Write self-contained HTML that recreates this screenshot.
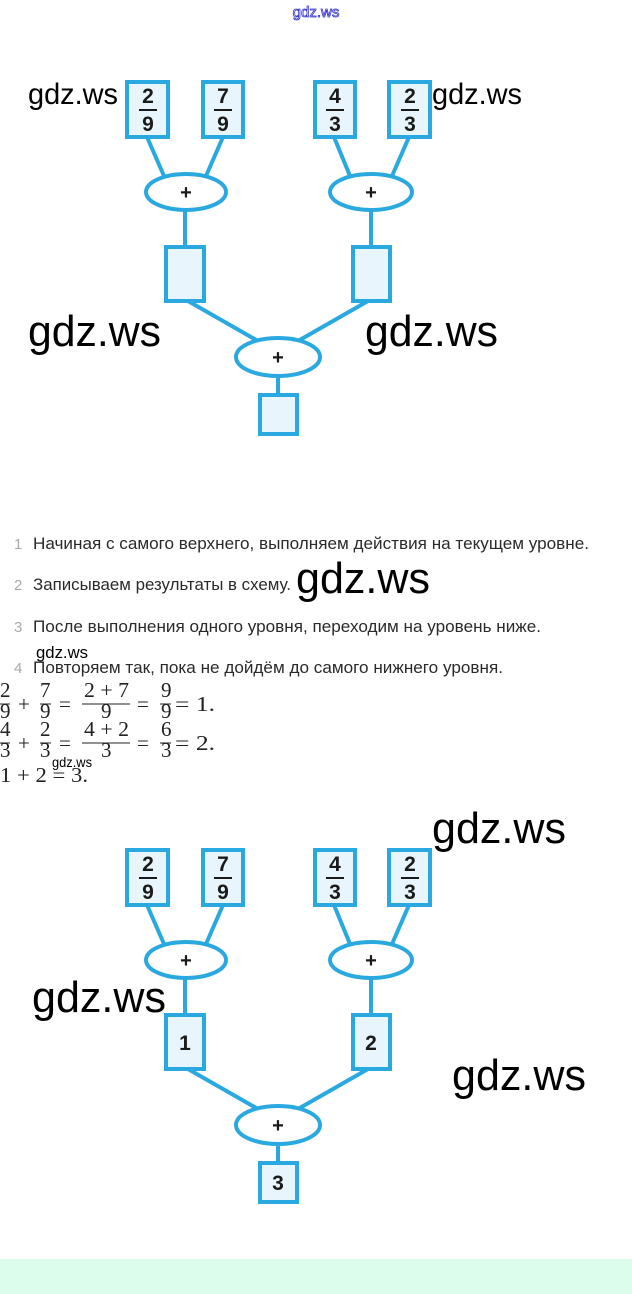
<!DOCTYPE html>
<html><head><meta charset="utf-8"><style>
html,body{margin:0;padding:0;background:#fff;}
svg{display:block;}
</style></head><body>
<svg width="632" height="1294" viewBox="0 0 632 1294" xmlns="http://www.w3.org/2000/svg">
<defs>
<g id="tree">
  <g stroke="#2aa9e0" stroke-width="4" fill="none">
    <line x1="147" y1="137" x2="164" y2="176"/>
    <line x1="223" y1="137" x2="206" y2="176"/>
    <line x1="334" y1="137" x2="350" y2="176"/>
    <line x1="409" y1="137" x2="392" y2="176"/>
    <line x1="185" y1="210" x2="185" y2="247"/>
    <line x1="371" y1="210" x2="371" y2="247"/>
    <line x1="188" y1="301" x2="258" y2="341"/>
    <line x1="368" y1="301" x2="298" y2="341"/>
    <line x1="278" y1="376" x2="278" y2="395"/>
  </g>
  <g stroke="#2aa9e0" stroke-width="4" fill="#e8f5fc">
    <rect x="127" y="82" width="41" height="55"/>
    <rect x="203" y="82" width="40" height="55"/>
    <rect x="315" y="82" width="40" height="55"/>
    <rect x="389" y="82" width="41" height="55"/>
    <rect x="166" y="247" width="38" height="54"/>
    <rect x="353" y="247" width="37" height="54"/>
    <rect x="260" y="395" width="37" height="39"/>
  </g>
  <g stroke="#2aa9e0" stroke-width="4" fill="#fff">
    <ellipse cx="186" cy="192" rx="40" ry="18"/>
    <ellipse cx="371" cy="192" rx="41" ry="18"/>
    <ellipse cx="278" cy="357" rx="42" ry="19"/>
  </g>
  <g font-family="Liberation Sans, sans-serif" font-weight="bold" font-size="21" fill="#1a1a1a" text-anchor="middle">
    <text x="148" y="103">2</text><text x="148" y="131">9</text>
    <text x="223" y="103">7</text><text x="223" y="131">9</text>
    <text x="335" y="103">4</text><text x="335" y="131">3</text>
    <text x="410" y="103">2</text><text x="410" y="131">3</text>
    <text x="186" y="199" font-size="20">+</text>
    <text x="371" y="199" font-size="20">+</text>
    <text x="278" y="364" font-size="20">+</text>
  </g>
  <g stroke="#1a1a1a" stroke-width="2">
    <line x1="139" y1="110" x2="157" y2="110"/>
    <line x1="214" y1="110" x2="232" y2="110"/>
    <line x1="326" y1="110" x2="344" y2="110"/>
    <line x1="401" y1="110" x2="419" y2="110"/>
  </g>
</g>
</defs>

<text x="316" y="17" text-anchor="middle" font-family="Liberation Sans, sans-serif" font-size="15" fill="none" stroke="#3333cc" stroke-width="0.8">gdz.ws</text>

<use href="#tree"/>
<g transform="translate(0,768)">
  <use href="#tree"/>
  <g font-family="Liberation Sans, sans-serif" font-weight="bold" font-size="21" fill="#1a1a1a" text-anchor="middle">
    <text x="185" y="282">1</text>
    <text x="371" y="282">2</text>
    <text x="278" y="422">3</text>
  </g>
</g>

<g font-family="Liberation Sans, sans-serif" fill="#000">
  <text x="28" y="104" font-size="30" textLength="90" lengthAdjust="spacingAndGlyphs">gdz.ws</text>
  <text x="432" y="104" font-size="30" textLength="90" lengthAdjust="spacingAndGlyphs">gdz.ws</text>
  <text x="28" y="346" font-size="44" textLength="133" lengthAdjust="spacingAndGlyphs">gdz.ws</text>
  <text x="365" y="346" font-size="44" textLength="133" lengthAdjust="spacingAndGlyphs">gdz.ws</text>
  <text x="296" y="593" font-size="44" textLength="134" lengthAdjust="spacingAndGlyphs">gdz.ws</text>
  <text x="36" y="658" font-size="17" textLength="52" lengthAdjust="spacingAndGlyphs">gdz.ws</text>
  <text x="52" y="767" font-size="14" textLength="40" lengthAdjust="spacingAndGlyphs">gdz.ws</text>
  <text x="432" y="843" font-size="44" textLength="134" lengthAdjust="spacingAndGlyphs">gdz.ws</text>
  <text x="32" y="1012" font-size="44" textLength="134" lengthAdjust="spacingAndGlyphs">gdz.ws</text>
  <text x="452" y="1090" font-size="44" textLength="134" lengthAdjust="spacingAndGlyphs">gdz.ws</text>
</g>

<g font-family="Liberation Sans, sans-serif" font-size="17">
  <text x="14" y="549" fill="#aaa" font-size="15">1</text>
  <text x="33" y="549" fill="#2a2a2a" textLength="556" lengthAdjust="spacingAndGlyphs">Начиная с самого верхнего, выполняем действия на текущем уровне.</text>
  <text x="14" y="590" fill="#aaa" font-size="15">2</text>
  <text x="33" y="590" fill="#2a2a2a" textLength="258" lengthAdjust="spacingAndGlyphs">Записываем результаты в схему.</text>
  <text x="14" y="632" fill="#aaa" font-size="15">3</text>
  <text x="33" y="632" fill="#2a2a2a" textLength="508" lengthAdjust="spacingAndGlyphs">После выполнения одного уровня, переходим на уровень ниже.</text>
  <text x="14" y="673" fill="#aaa" font-size="15">4</text>
  <text x="33" y="673" fill="#2a2a2a" textLength="470" lengthAdjust="spacingAndGlyphs">Повторяем так, пока не дойдём до самого нижнего уровня.</text>
</g>

<g font-family="Liberation Serif, serif" font-size="21" fill="#222">
  <text x="0" y="697">2</text><text x="0" y="718">9</text>
  <text x="18" y="711">+</text>
  <text x="40" y="697">7</text><text x="40" y="718">9</text>
  <text x="59" y="711">=</text>
  <text x="84" y="697" textLength="45" lengthAdjust="spacingAndGlyphs">2 + 7</text><text x="101" y="718">9</text>
  <text x="137" y="711">=</text>
  <text x="161" y="697">9</text><text x="161" y="718">9</text>
  <text x="175" y="711" textLength="40" lengthAdjust="spacingAndGlyphs">= 1.</text>

  <text x="0" y="736">4</text><text x="0" y="757">3</text>
  <text x="18" y="750">+</text>
  <text x="40" y="736">2</text><text x="40" y="757">3</text>
  <text x="59" y="750">=</text>
  <text x="84" y="736" textLength="45" lengthAdjust="spacingAndGlyphs">4 + 2</text><text x="101" y="757">3</text>
  <text x="137" y="750">=</text>
  <text x="161" y="736">6</text><text x="161" y="757">3</text>
  <text x="175" y="750" textLength="40" lengthAdjust="spacingAndGlyphs">= 2.</text>

  <text x="0" y="782" textLength="88" lengthAdjust="spacingAndGlyphs">1 + 2 = 3.</text>
</g>
<g stroke="#222" stroke-width="1">
  <line x1="0" y1="704" x2="10" y2="704"/>
  <line x1="40" y1="704" x2="51" y2="704"/>
  <line x1="82" y1="704" x2="130" y2="704"/>
  <line x1="160" y1="704" x2="171" y2="704"/>
  <line x1="0" y1="743" x2="10" y2="743"/>
  <line x1="40" y1="743" x2="51" y2="743"/>
  <line x1="82" y1="743" x2="130" y2="743"/>
  <line x1="160" y1="743" x2="171" y2="743"/>
</g>

<rect x="0" y="1259" width="632" height="35" fill="#dcfcec"/>
</svg>
</body></html>
